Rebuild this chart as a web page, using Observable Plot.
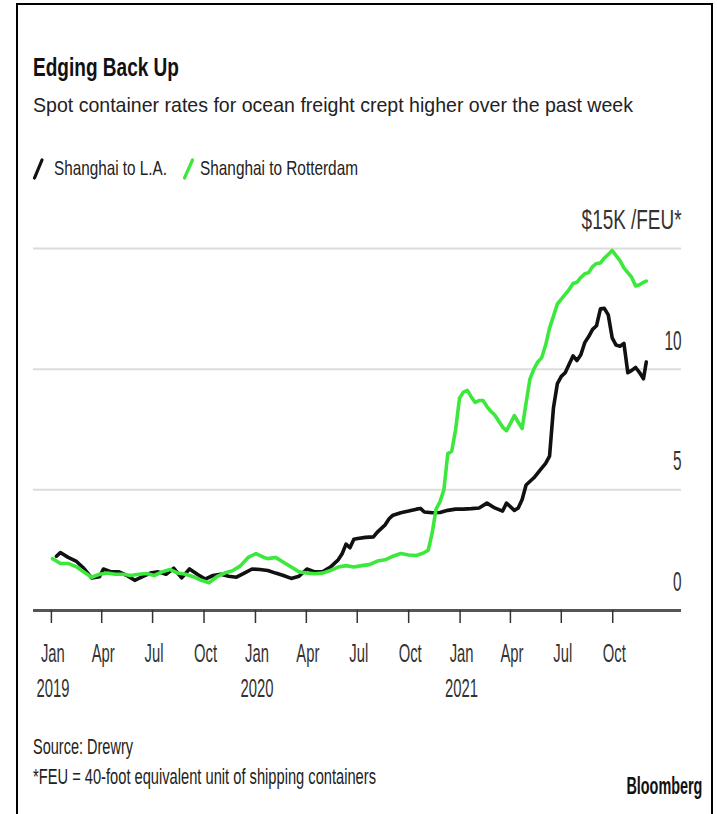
<!DOCTYPE html>
<html>
<head>
<meta charset="utf-8">
<script src="https://cdn.jsdelivr.net/npm/d3@7"></script>
<script src="https://cdn.jsdelivr.net/npm/@observablehq/plot@0.6"></script>
<style>
  html, body { margin: 0; padding: 0; background: #fff; overflow: hidden; }
  body { width: 717px; height: 814px; position: relative; font-family: "Liberation Sans", Arial, sans-serif; }
  .frame { position: absolute; left: 16px; top: 3px; width: 693px; height: 815px; border: 2px solid #000; }
  .t { position: absolute; white-space: nowrap; line-height: 1; transform-origin: left top; }
  #chart { position: absolute; left: 0; top: 150px; }
</style>
</head>
<body>
<div class="frame"></div>
<div class="t" id="title" style="left:33px; font-size:26px; font-weight:bold; color:#111;">Edging Back Up</div>
<div class="t" id="subtitle" style="left:33px; font-size:21px; color:#222;">Spot container rates for ocean freight crept higher over the past week</div>
<svg width="717" height="150" style="position:absolute;left:0;top:40px;pointer-events:none">
  <line x1="34.5" y1="138" x2="42" y2="120" stroke="#111" stroke-width="3.2" stroke-linecap="round"/>
  <line x1="184.5" y1="138" x2="192.5" y2="120" stroke="#3ce83c" stroke-width="3.2" stroke-linecap="round"/>
</svg>
<div class="t" id="leg1" style="left:54px; font-size:21px; color:#222;">Shanghai to L.A.</div>
<div class="t" id="leg2" style="left:200px; font-size:21px; color:#222;">Shanghai to Rotterdam</div>
<div id="chart"></div>
<div class="t" id="source" style="left:33px; font-size:22px; color:#222;">Source: Drewry</div>
<div class="t" id="note" style="left:33px; font-size:22px; color:#222;">*FEU = 40-foot equivalent unit of shipping containers</div>
<div class="t" id="brand" style="left:626px; font-size:23px; font-weight:bold; color:#111;">Bloomberg</div>
<script>
// ---- Data, values in $ thousands per FEU ----
const laDates = [
  "2019-01-10","2019-01-17","2019-01-31","2019-02-14","2019-02-28","2019-03-14","2019-03-28","2019-04-04",
  "2019-04-18","2019-05-02","2019-05-16","2019-05-30","2019-06-13","2019-06-27","2019-07-11","2019-07-25",
  "2019-08-08","2019-08-22","2019-09-05","2019-09-19","2019-10-03","2019-10-17","2019-10-31","2019-11-14",
  "2019-11-28","2019-12-12","2019-12-26","2020-01-09","2020-01-23","2020-02-06","2020-02-20","2020-03-05",
  "2020-03-19","2020-04-02","2020-04-16","2020-04-30","2020-05-14","2020-05-28","2020-06-04","2020-06-11",
  "2020-06-18","2020-06-25","2020-07-02","2020-07-16","2020-07-30","2020-08-06","2020-08-20","2020-08-27",
  "2020-09-03","2020-09-17","2020-10-01","2020-10-15","2020-10-22","2020-10-29","2020-11-12","2020-11-26",
  "2020-12-10","2020-12-24","2021-01-07","2021-01-21","2021-02-04","2021-02-18","2021-03-04","2021-03-18",
  "2021-03-25","2021-04-08","2021-04-15","2021-04-22","2021-04-29","2021-05-13","2021-05-27","2021-06-03",
  "2021-06-10","2021-06-17","2021-06-24","2021-07-01","2021-07-08","2021-07-15","2021-07-22","2021-07-29",
  "2021-08-05","2021-08-12","2021-08-19","2021-08-26","2021-09-02","2021-09-09","2021-09-16","2021-09-23",
  "2021-09-30","2021-10-07","2021-10-14","2021-10-21","2021-10-28","2021-11-04","2021-11-11","2021-11-18",
  "2021-11-25","2021-11-30"
];
const laValues = [
  2.25,2.4,2.2,2.05,1.75,1.35,1.4,1.72,
  1.6,1.6,1.45,1.25,1.4,1.55,1.6,1.5,
  1.75,1.35,1.72,1.5,1.3,1.45,1.5,1.42,
  1.38,1.55,1.72,1.7,1.66,1.55,1.45,1.33,
  1.42,1.72,1.6,1.6,1.8,2.1,2.35,2.75,
  2.6,2.95,2.98,3.03,3.05,3.25,3.55,3.8,
  3.95,4.05,4.12,4.2,4.23,4.08,4.05,4.06,
  4.15,4.2,4.2,4.22,4.25,4.45,4.25,4.12,
  4.45,4.15,4.25,4.6,5.2,5.5,5.9,6.1,
  6.4,8.4,9.4,9.7,9.85,10.2,10.55,10.36,
  10.6,11.1,11.35,11.65,11.8,12.5,12.52,12.25,
  11.3,11.0,10.95,11.07,9.85,9.95,10.07,9.86,
  9.6,10.3
];
const rotDates = [
  "2019-01-03","2019-01-10","2019-01-17","2019-01-31","2019-02-14","2019-02-28","2019-03-14","2019-03-28",
  "2019-04-11","2019-04-25","2019-05-09","2019-05-23","2019-06-06","2019-06-20","2019-07-04","2019-07-18",
  "2019-08-01","2019-08-15","2019-08-29","2019-09-12","2019-09-26","2019-10-10","2019-10-24","2019-11-07",
  "2019-11-21","2019-12-05","2019-12-19","2020-01-02","2020-01-16","2020-01-23","2020-02-06","2020-02-20",
  "2020-03-05","2020-03-19","2020-04-02","2020-04-16","2020-04-30","2020-05-14","2020-05-28","2020-06-11",
  "2020-06-25","2020-07-09","2020-07-23","2020-08-06","2020-08-20","2020-09-03","2020-09-17","2020-10-01",
  "2020-10-15","2020-10-29","2020-11-05","2020-11-12","2020-11-19","2020-11-26","2020-12-03","2020-12-10",
  "2020-12-17","2020-12-24","2020-12-31","2021-01-07","2021-01-14","2021-01-21","2021-01-28","2021-02-04",
  "2021-02-11","2021-02-18","2021-02-25","2021-03-04","2021-03-11","2021-03-18","2021-03-25","2021-04-01",
  "2021-04-08","2021-04-15","2021-04-22","2021-04-29","2021-05-06","2021-05-13","2021-05-20","2021-05-27",
  "2021-06-03","2021-06-10","2021-06-17","2021-06-24","2021-07-01","2021-07-08","2021-07-15","2021-07-22",
  "2021-07-29","2021-08-05","2021-08-12","2021-08-19","2021-08-26","2021-09-02","2021-09-09","2021-09-16",
  "2021-09-23","2021-09-30","2021-10-07","2021-10-14","2021-10-21","2021-10-28","2021-11-04","2021-11-11",
  "2021-11-18","2021-11-25","2021-11-30"
];
const rotValues = [
  2.15,2.05,1.95,1.95,1.82,1.6,1.38,1.5,
  1.55,1.5,1.5,1.45,1.5,1.53,1.45,1.6,
  1.7,1.55,1.5,1.4,1.25,1.15,1.4,1.55,
  1.65,1.85,2.2,2.36,2.2,2.15,2.2,2.0,
  1.8,1.6,1.55,1.52,1.55,1.66,1.8,1.86,
  1.8,1.86,1.9,2.05,2.1,2.25,2.36,2.3,
  2.28,2.4,2.5,3.2,4.2,4.5,5.0,6.5,
  6.6,7.5,8.8,9.05,9.12,8.85,8.62,8.7,
  8.7,8.45,8.25,8.1,7.85,7.6,7.45,7.75,
  8.08,7.8,7.54,8.6,9.6,10.0,10.3,10.48,
  11.0,11.7,12.2,12.7,12.9,13.1,13.3,13.55,
  13.6,13.8,13.95,14.0,14.25,14.38,14.4,14.6,
  14.75,14.92,14.7,14.5,14.2,14.0,13.8,13.45,
  13.5,13.6,13.65
];
const seriesNames = ["Shanghai to L.A.", "Shanghai to Rotterdam"];
const seriesColors = ["#111111", "#3ce83c"];

const xDomain = ["2018-11-30", "2022-02-01"];
const yDomain = [0, 15];
const monthTickDates = ["2019-01-01","2019-04-01","2019-07-01","2019-10-01","2020-01-01","2020-04-01","2020-07-01","2020-10-01","2021-01-01","2021-04-01","2021-07-01","2021-10-01"];
const monthTickLabels = ["Jan","Apr","Jul","Oct","Jan","Apr","Jul","Oct","Jan","Apr","Jul","Oct"];
const yearTickDates = ["2019-01-01","2020-01-01","2021-01-01"];
const yearTickLabels = ["2019","2020","2021"];
const yTicks = [0, 5, 10, 15];
const yTickLabels = ["0", "5", "10", "$15K /FEU*"];
const gridValues = [5, 10, 15];

// ---- Build ----
const la = laDates.map((d, i) => ({date: new Date(d), v: laValues[i]}));
const rot = rotDates.map((d, i) => ({date: new Date(d), v: rotValues[i]}));
const mTicks = monthTickDates.map(d => new Date(d));
const yrTicks = yearTickDates.map(d => new Date(d));
const idxOf = (arr, d) => arr.findIndex(t => +t === +d);

const chart = Plot.plot({
  width: 717,
  height: 550,
  marginLeft: 33,
  marginRight: 36,
  marginTop: 98,
  marginBottom: 90,
  x: {type: "utc", domain: xDomain.map(d => new Date(d))},
  y: {domain: yDomain},
  style: {background: "transparent", fontFamily: "'Liberation Sans', Arial, sans-serif", overflow: "visible"},
  marks: [
    Plot.gridY(gridValues, {stroke: "#dcdcdc", strokeOpacity: 1, strokeWidth: 2}),
    Plot.ruleY([0], {stroke: "#555", strokeWidth: 3}),
    Plot.axisX(mTicks, {
      tickSize: 13, tickPadding: 20, fontSize: 26, color: "#333", strokeWidth: 1.5, label: null,
      tickFormat: d => monthTickLabels[idxOf(mTicks, d)]
    }),
    Plot.axisX(yrTicks, {
      tickSize: 0, tickPadding: 68, fontSize: 26, color: "#333", label: null,
      tickFormat: d => yearTickLabels[idxOf(yrTicks, d)]
    }),
    Plot.axisY(yTicks, {
      anchor: "right", tickSize: 0, tickPadding: 0, textAnchor: "end", dy: -28, fontSize: 27,
      color: "#333", label: null,
      tickFormat: d => yTickLabels[yTicks.indexOf(d)]
    }),
    Plot.line(la, {x: "date", y: "v", stroke: seriesColors[0], strokeWidth: 3.6, strokeLinejoin: "round"}),
    Plot.line(rot, {x: "date", y: "v", stroke: seriesColors[1], strokeWidth: 3.6, strokeLinejoin: "round"})
  ]
});
document.getElementById("chart").appendChild(chart);

// Condense SVG text horizontally (about its anchor) to match the narrow typeface of the reference
chart.querySelectorAll("text").forEach(t => {
  const L = t.getComputedTextLength();
  if (!L) return;
  const isY = t.textContent.includes("FEU") || /^\d{1,2}$/.test(t.textContent);
  const k = t.textContent.includes("FEU") ? 100 / L : 0.57;
  const X = parseFloat(t.getAttribute("x") || 0) || 0;
  const shift = isY ? 0 : 1.5; // x labels sit slightly right of their ticks in the reference
  const T = t.getAttribute("transform") || "";
  t.setAttribute("transform", `${T} translate(${X + shift},0) scale(${k},1) translate(${-X},0)`.trim());
});

// Position HTML texts by baseline and condense to reference widths
function place(id, baseline, width, origin) {
  const el = document.getElementById(id);
  const fs = parseFloat(el.style.fontSize);
  el.style.top = (baseline - 0.85 * fs) + "px";
  const n = el.getBoundingClientRect().width;
  if (origin === "right") {
    const left = parseFloat(el.style.left);
    el.style.left = (left + width - n) + "px";
    el.style.transformOrigin = "right top";
  }
  el.style.transform = `scaleX(${width / n})`;
}
place("title", 76, 146);
place("subtitle", 112, 600);
place("leg1", 175, 113);
place("leg2", 175, 158);
place("source", 755, 100);
place("note", 785, 343);
place("brand", 795, 76, "right");
</script>
</body>
</html>
